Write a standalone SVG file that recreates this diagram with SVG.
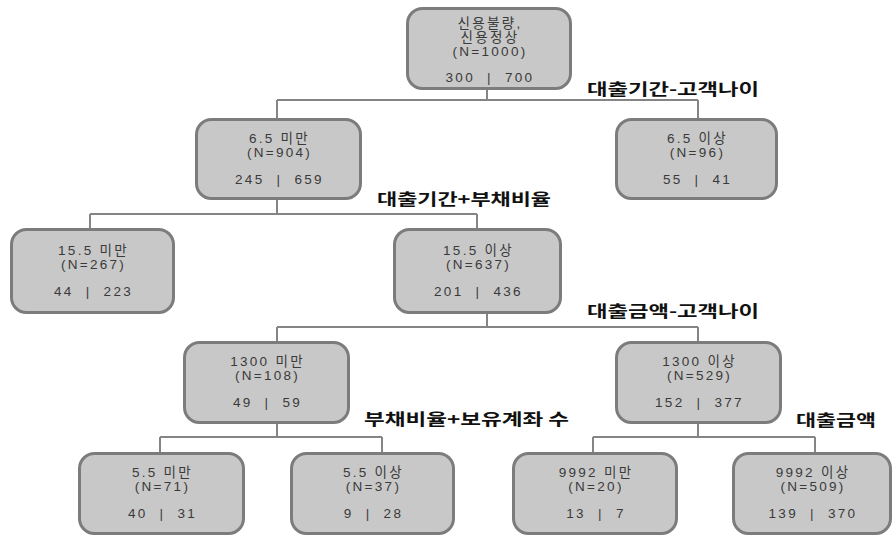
<svg xmlns="http://www.w3.org/2000/svg" width="894" height="538" viewBox="0 0 894 538">
<style>
.box{fill:#c8c8c8;stroke:#7c7c7c;stroke-width:3}
.t{font-family:"Liberation Sans","Noto Sans CJK KR",sans-serif;font-size:13.5px;fill:#3a3a3a;text-anchor:middle;letter-spacing:2.3px;white-space:pre}
.lbl{font-family:"Noto Sans CJK KR",sans-serif;font-size:16px;font-weight:bold;fill:#111}
.c{stroke:#858585;stroke-width:2;fill:none}
</style>
<rect width="894" height="538" fill="#fff"/>
<g id="connectors">
<path class="c" d="M487 90V100M277 100H698M277 100V118M698 100V118"/>
<path class="c" d="M277 200V214M90 214H477M90 214V228M477 214V228"/>
<path class="c" d="M487 314V327M277 327H698M277 327V341M698 327V341"/>
<path class="c" d="M277 424V437M160 437H382M160 437V452M382 437V452"/>
<path class="c" d="M698 424V437M593 437H815M593 437V452M815 437V452"/>
</g>
<g id="labels">
<text class="lbl" x="587" y="95" textLength="172" lengthAdjust="spacingAndGlyphs">대출기간-고객나이</text>
<text class="lbl" x="377" y="205" textLength="174" lengthAdjust="spacingAndGlyphs">대출기간+부채비율</text>
<text class="lbl" x="587" y="317" textLength="172" lengthAdjust="spacingAndGlyphs">대출금액-고객나이</text>
<text class="lbl" x="364" y="425" textLength="205" lengthAdjust="spacingAndGlyphs">부채비율+보유계좌 수</text>
<text class="lbl" x="796" y="426" textLength="80" lengthAdjust="spacingAndGlyphs">대출금액</text>
</g>
<g id="root">
<rect class="box" x="407.5" y="8.5" width="163" height="80" rx="15"/>
<text class="t"><tspan x="490" y="28">신용불량,</tspan><tspan x="490" y="42">신용정상</tspan><tspan x="490" y="56">(N=1000)</tspan><tspan x="490" y="82">300  |  700</tspan></text>
</g>
<g id="n65lt">
<rect class="box" x="196.5" y="119.5" width="164" height="79" rx="15"/>
<text class="t"><tspan x="279.5" y="143">6.5 미만</tspan><tspan x="279.5" y="157">(N=904)</tspan><tspan x="279.5" y="184">245  |  659</tspan></text>
</g>
<g id="n65ge">
<rect class="box" x="616.5" y="119.5" width="160" height="79" rx="15"/>
<text class="t"><tspan x="697.5" y="143">6.5 이상</tspan><tspan x="697.5" y="157">(N=96)</tspan><tspan x="697.5" y="184">55  |  41</tspan></text>
</g>
<g id="n155lt">
<rect class="box" x="11.5" y="229.5" width="162" height="83" rx="15"/>
<text class="t"><tspan x="93.5" y="255">15.5 미만</tspan><tspan x="93.5" y="269">(N=267)</tspan><tspan x="93.5" y="296">44  |  223</tspan></text>
</g>
<g id="n155ge">
<rect class="box" x="394.5" y="229.5" width="166" height="83" rx="15"/>
<text class="t"><tspan x="478.5" y="255">15.5 이상</tspan><tspan x="478.5" y="269">(N=637)</tspan><tspan x="478.5" y="296">201  |  436</tspan></text>
</g>
<g id="n1300lt">
<rect class="box" x="184.5" y="342.5" width="164" height="80" rx="15"/>
<text class="t"><tspan x="267.5" y="366">1300 미만</tspan><tspan x="267.5" y="380">(N=108)</tspan><tspan x="267.5" y="407">49  |  59</tspan></text>
</g>
<g id="n1300ge">
<rect class="box" x="616.5" y="342.5" width="164" height="80" rx="15"/>
<text class="t"><tspan x="699.5" y="366">1300 이상</tspan><tspan x="699.5" y="380">(N=529)</tspan><tspan x="699.5" y="407">152  |  377</tspan></text>
</g>
<g id="n55lt">
<rect class="box" x="79.5" y="453.5" width="164" height="80" rx="15"/>
<text class="t"><tspan x="162.5" y="477">5.5 미만</tspan><tspan x="162.5" y="491">(N=71)</tspan><tspan x="162.5" y="518">40  |  31</tspan></text>
</g>
<g id="n55ge">
<rect class="box" x="291.5" y="453.5" width="162" height="80" rx="15"/>
<text class="t"><tspan x="373.5" y="477">5.5 이상</tspan><tspan x="373.5" y="491">(N=37)</tspan><tspan x="373.5" y="518">9  |  28</tspan></text>
</g>
<g id="n9992lt">
<rect class="box" x="513.5" y="453.5" width="163" height="80" rx="15"/>
<text class="t"><tspan x="596" y="477">9992 미만</tspan><tspan x="596" y="491">(N=20)</tspan><tspan x="596" y="518">13  |  7</tspan></text>
</g>
<g id="n9992ge">
<rect class="box" x="733.5" y="453.5" width="157" height="80" rx="15"/>
<text class="t"><tspan x="813" y="477">9992 이상</tspan><tspan x="813" y="491">(N=509)</tspan><tspan x="813" y="518">139  |  370</tspan></text>
</g>
</svg>
